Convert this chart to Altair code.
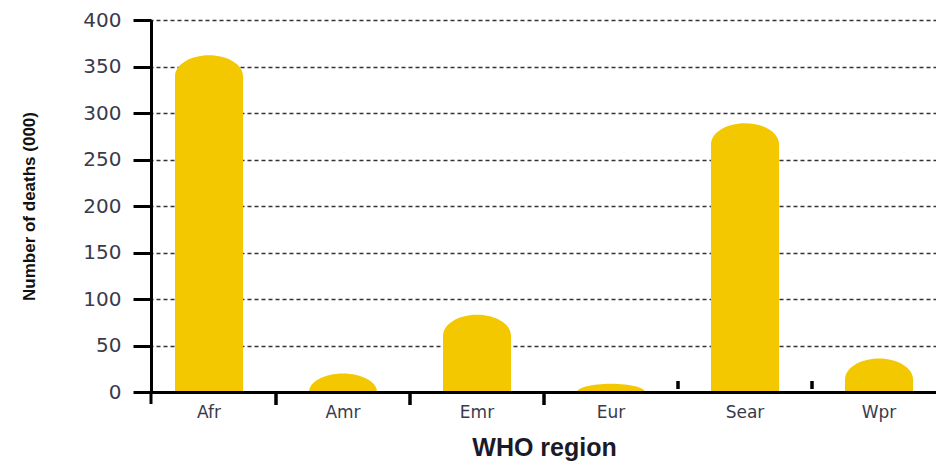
import altair as alt
import pandas as pd

# Deaths (thousands) by WHO region
regions = ["Afr", "Amr", "Emr", "Eur", "Sear", "Wpr"]
deaths = [362, 20, 83, 9, 289, 36]

y_tick_values = [0, 50, 100, 150, 200, 250, 300, 350, 400]
down_tick_regions = ["Amr", "Emr", "Eur"]
up_tick_regions = ["Sear", "Wpr"]

# layout
PLOT_W, PLOT_H = 785, 372
Y_MAX = 400
STEP = 134
BAR_W = 68
CAP_PX = 21
YELLOW = "#F3C800"
LABEL_COLOR = "#3a3a4c"

px_per_unit = PLOT_H / Y_MAX
cap_units = CAP_PX / px_per_unit
half_w = BAR_W / 2

df = pd.DataFrame({"region": regions, "deaths": deaths})

x_scale = alt.Scale(domain=regions, range=[-9, -9 + STEP * len(regions)],
                    paddingInner=0, paddingOuter=0)
y_scale = alt.Scale(domain=[0, Y_MAX], nice=False, zero=True)

# straight body of each bar stops below a half-ellipse cap
base = alt.Chart(df).transform_calculate(
    body_top=f"max(datum.deaths - {cap_units}, 0)",
    cap_ry=f"min(datum.deaths, {cap_units}) * {px_per_unit} / {half_w}",
).transform_calculate(
    cap_shape="'M -1 0.04 L -1 0 A 1 ' + format(datum.cap_ry, '.4f') + ' 0 0 1 1 0 L 1 0.04 Z'"
)

x_axis = alt.Axis(
    title="WHO region", labelAngle=0, ticks=False, grid=False,
    domainColor="black", domainWidth=3, zindex=1,
    labelFont="DejaVu Sans", labelFontSize=17, labelColor=LABEL_COLOR, labelPadding=12,
    titleFont="Liberation Sans", titleFontSize=25, titleFontWeight="bold",
    titleColor="#1a1a28", titlePadding=15,
)
y_axis = alt.Axis(
    values=y_tick_values, title="Number of deaths (000)",
    domainColor="black", domainWidth=3,
    tickColor="black", tickWidth=3, tickSize=18,
    grid=True, gridDash=[4, 3], gridColor="#333333", gridWidth=1.6, zindex=0,
    labelFont="DejaVu Sans", labelFontSize=20, labelColor=LABEL_COLOR, labelPadding=12,
    titleFont="Liberation Sans", titleFontSize=17,
    titleFontWeight="bold", titleColor="#111111", titlePadding=44,
)

bars = base.mark_bar(color=YELLOW, size=BAR_W).encode(
    x=alt.X("region:N", scale=x_scale, axis=x_axis),
    y=alt.Y("body_top:Q", scale=y_scale, axis=y_axis),
)

caps = base.mark_point(filled=True, size=BAR_W ** 2, color=YELLOW,
                       opacity=1, strokeWidth=0).encode(
    x=alt.X("region:N", scale=x_scale, axis=x_axis),
    y=alt.Y("body_top:Q", scale=y_scale, axis=y_axis),
    shape=alt.Shape("cap_shape:N", scale=None, legend=None),
)

# small ticks between the regions on the category axis
down_ticks = alt.Chart(pd.DataFrame({"region": down_tick_regions})).mark_rule(
    color="black", strokeWidth=3.5
).encode(
    x=alt.X("region:N", bandPosition=0, scale=x_scale, axis=x_axis),
    y=alt.value(PLOT_H), y2=alt.value(PLOT_H + 13),
)
up_ticks = alt.Chart(pd.DataFrame({"region": up_tick_regions})).mark_rule(
    color="black", strokeWidth=3.5
).encode(
    x=alt.X("region:N", bandPosition=0, scale=x_scale, axis=x_axis),
    y=alt.value(PLOT_H - 11), y2=alt.value(PLOT_H - 3),
)

# value axis runs a little past zero
axis_tail = alt.Chart(pd.DataFrame({"k": [0]})).mark_rule(
    color="black", strokeWidth=3
).encode(x=alt.value(0), y=alt.value(PLOT_H), y2=alt.value(PLOT_H + 12))

chart = alt.layer(bars, caps, down_ticks, up_ticks, axis_tail).properties(
    width=PLOT_W, height=PLOT_H,
    autosize=alt.AutoSizeParams(type="none"),
    padding={"left": 151, "top": 20, "right": 0, "bottom": 70},
).configure_view(stroke=None)

chart.save("out.html", embed_options={"renderer": "svg", "actions": False})
